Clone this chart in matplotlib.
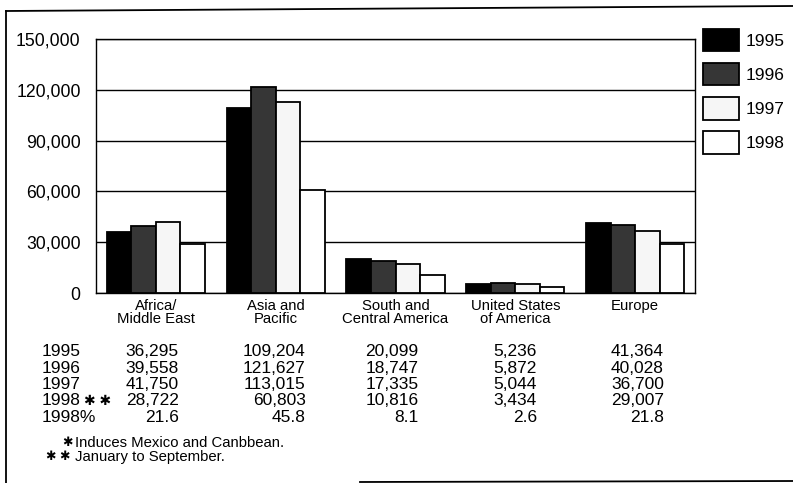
import matplotlib.pyplot as plt
import matplotlib.transforms as mtransforms
from matplotlib.patches import Patch
from matplotlib.lines import Line2D

plt.switch_backend('Agg')
plt.rcParams["font.family"] = ["Liberation Sans", "DejaVu Sans"]

regions = ["Africa/\nMiddle East", "Asia and\nPacific", "South and\nCentral America",
           "United States\nof America", "Europe"]
years = ["1995", "1996", "1997", "1998"]
v1995 = [36295, 109204, 20099, 5236, 41364]
v1996 = [39558, 121627, 18747, 5872, 40028]
v1997 = [41750, 113015, 17335, 5044, 36700]
v1998 = [28722, 60803, 10816, 3434, 29007]
pct1998 = [21.6, 45.8, 8.1, 2.6, 21.8]
row_labels = ["1995", "1996", "1997", "1998", "1998%"]
row_marks = ["", "", "", "\u2731 \u2731", ""]
colors = ["#000000", "#363636", "#f6f6f6", "#ffffff"]

W, H = 793, 483
fig = plt.figure(figsize=(W / 100, H / 100), dpi=100)
ax = fig.add_axes([96 / W, 1 - 293 / H, 599 / W, 254 / H])

series = [v1995, v1996, v1997, v1998]
width = 0.205
x = list(range(len(regions)))
for k, vals in enumerate(series):
    pos = [i + (k - 1.5) * width for i in x]
    ax.bar(pos, vals, width, color=colors[k], edgecolor="black", linewidth=1.3,
           zorder=3, label=years[k])

ax.set_xlim(-0.5, 4.5)
ax.set_ylim(0, 150000)
ax.set_yticks(range(0, 150001, 30000))
ax.set_yticklabels([f"{t:,}" for t in range(0, 150001, 30000)], fontsize=12.7)
ax.yaxis.grid(True, color="black", linewidth=1.0, zorder=0)
ax.tick_params(axis="y", length=0, pad=11)
ax.set_xticks(x)
ax.set_xticklabels(regions, fontsize=10.7, linespacing=0.95)
ax.tick_params(axis="x", length=0, pad=4)
for s in ax.spines.values():
    s.set_linewidth(1.0)
    s.set_color("black")

# legend at the right of the plot
handles = [Patch(facecolor=colors[k], edgecolor="black", linewidth=1.3) for k in range(4)]
fig.legend(handles, years, loc="upper left", bbox_to_anchor=(703 / W, 1 - 29 / H),
           frameon=False, fontsize=12.5, handlelength=2.1, handleheight=1.6,
           labelspacing=0.68, handletextpad=0.35, borderpad=0, borderaxespad=0)

# data table under the chart
tr = mtransforms.blended_transform_factory(ax.transData, fig.transFigure)
rows = [[f"{v:,}" for v in v1995], [f"{v:,}" for v in v1996],
        [f"{v:,}" for v in v1997], [f"{v:,}" for v in v1998],
        [f"{v}" for v in pct1998]]
offsets = [0.19, 0.25, 0.19, 0.18, 0.24]
for r, (lab, cells) in enumerate(zip(row_labels, rows)):
    yy = 1 - (352 + r * 16.3) / H
    fig.text(42 / W, yy, lab, fontsize=12.5, va="center", ha="left")
    if row_marks[r]:
        fig.text(84 / W, yy, row_marks[r], fontsize=10, va="center", ha="left")
    for i, c in enumerate(cells):
        fig.text(i + offsets[i], yy, c, fontsize=12.5, va="center", ha="right", transform=tr)

fig.text(62 / W, 1 - 443 / H, "\u2731", fontsize=9, va="center")
fig.text(75 / W, 1 - 443 / H, "Induces Mexico and Canbbean.", fontsize=10.7, va="center")
fig.text(46 / W, 1 - 457 / H, "\u2731 \u2731", fontsize=9, va="center")
fig.text(75 / W, 1 - 457 / H, "January to September.", fontsize=10.7, va="center")

# page frame
fig.add_artist(Line2D([6 / W, 6 / W], [0, 1 - 11 / H], color="black", linewidth=1.3))
fig.add_artist(Line2D([6 / W, 1], [1 - 11 / H, 1 - 6 / H], color="black", linewidth=1.3))
fig.add_artist(Line2D([360 / W, 1], [1 - 482 / H, 1 - 481 / H], color="black", linewidth=1.3))

fig.savefig("out.png", dpi=100)
